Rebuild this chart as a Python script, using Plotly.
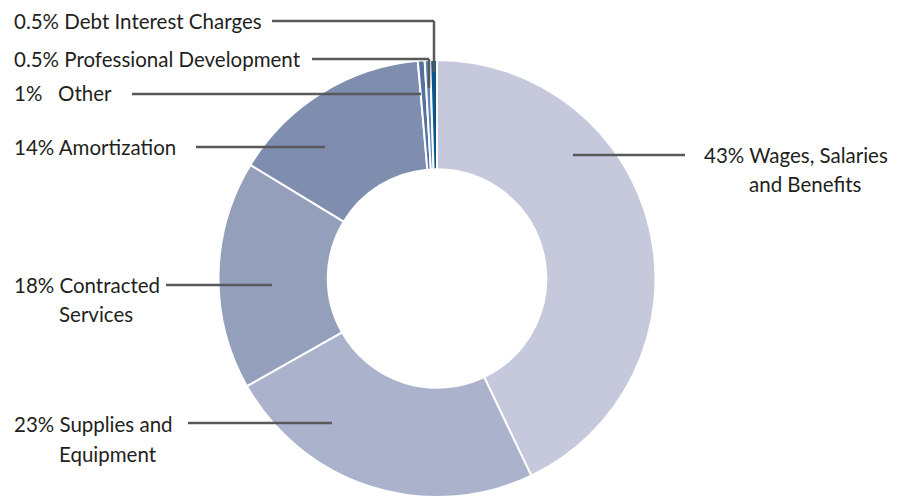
import plotly.graph_objects as go

categories = ["Wages, Salaries and Benefits", "Supplies and Equipment", "Contracted Services",
              "Amortization", "Other", "Professional Development", "Debt Interest Charges"]
values = [42.9, 23.9, 16.9, 14.9, 0.5, 0.4, 0.5]
colors = ["#c5c9db", "#abb2cb", "#939fbb", "#7f8daf", "#56709f", "#5b85b5", "#0b5689"]

W, H = 908, 497

fig = go.Figure(go.Pie(
    labels=categories, values=values, sort=False, direction="clockwise", rotation=0,
    hole=0.5, marker=dict(colors=colors, line=dict(color="white", width=2)),
    textinfo="none", hoverinfo="label+percent", showlegend=False,
    domain=dict(x=[217 / W, 657 / W], y=[0, 1 - 60 / H]),
))

def px(x):
    return x / W

def py(y):
    return 1 - y / H

labels = [
    ("0.5% Debt Interest Charges", 12, 21),
    ("0.5% Professional Development", 12, 59),
    ("1%   Other", 12, 93),
    ("14% Amortization", 12, 147),
    ("18% Contracted", 12, 285),
    ("Services", 57, 314),
    ("23% Supplies and", 12, 424),
    ("Equipment", 57, 454),
    ("43% Wages, Salaries", 702, 155),
    ("and Benefits", 747, 184),
]
font = dict(family="Lato, 'Open Sans', sans-serif", size=20.5, color="#231f20")
for t, x, y in labels:
    fig.add_annotation(text=t, x=px(x), y=py(y), xref="paper", yref="paper",
                       xanchor="left", yanchor="middle", showarrow=False, font=font)

line = dict(color="#58595b", width=2.5)
segments = [
    (272, 21, 434, 21), (434, 21, 434, 72),
    (312, 59, 429, 59), (429, 59, 429, 88),
    (132, 94, 421, 94),
    (196, 147, 325, 147),
    (166, 285, 272, 285),
    (188, 423, 332, 423),
    (573, 155, 685, 155),
]
for x0, y0, x1, y1 in segments:
    fig.add_shape(type="line", xref="paper", yref="paper",
                  x0=px(x0), y0=py(y0), x1=px(x1), y1=py(y1), line=line)

fig.update_layout(width=W, height=H, margin=dict(l=0, r=0, t=0, b=0),
                  paper_bgcolor="white", plot_bgcolor="white")
fig.write_html("out.html", config={"displayModeBar": False},
               post_script="document.body.style.margin='0';document.body.style.overflow='hidden';")
